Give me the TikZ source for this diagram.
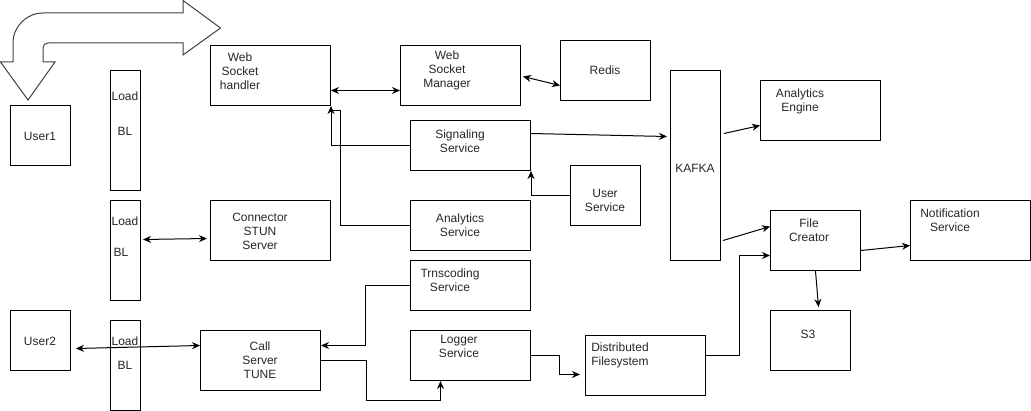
\documentclass[tikz,border=0pt]{standalone}
\usepackage{fontspec}
\setmainfont{Liberation Sans}
\usetikzlibrary{arrows.meta}
\begin{document}
\begin{tikzpicture}[x=1pt,y=-1pt,
  box/.style={draw=black, line width=1pt, anchor=north west, inner sep=0pt},
  txt/.style={font=\fontsize{12}{14}\selectfont, align=center, text=black!85, inner sep=0pt},
  conn/.style={line width=1pt, -{Stealth[length=8pt,width=7pt]}},
  dconn/.style={line width=1pt, {Stealth[length=8pt,width=7pt]}-{Stealth[length=8pt,width=7pt]}},
  plain/.style={line width=1pt},
  bigarrow/.style={draw=black!75, line width=1pt, line join=miter}]
\useasboundingbox (0,0) rectangle (1031,411);

% boxes
\node[box, minimum width=60pt, minimum height=60pt] (user1) at (10,105) {};
\node[box, minimum width=30pt, minimum height=120pt] (bl1) at (110,70) {};
\node[box, minimum width=120pt, minimum height=60pt] (wsh) at (210,45) {};
\node[box, minimum width=120pt, minimum height=60pt] (wsm) at (400,45) {};
\node[box, minimum width=90pt, minimum height=60pt] (redis) at (560,40) {};
\node[box, minimum width=120pt, minimum height=50pt] (sig) at (410,120) {};
\node[box, minimum width=70pt, minimum height=60pt] (usr) at (570,165) {};
\node[box, minimum width=120pt, minimum height=50pt] (ana) at (410,200) {};
\node[box, minimum width=30pt, minimum height=100pt] (bl2) at (110,200) {};
\node[box, minimum width=120pt, minimum height=60pt] (stun) at (210,200) {};
\node[box, minimum width=60pt, minimum height=60pt] (user2) at (10,310) {};
\node[box, minimum width=30pt, minimum height=90pt] (bl3) at (110,320) {};
\node[box, minimum width=120pt, minimum height=60pt] (call) at (200,330) {};
\node[box, minimum width=120pt, minimum height=50pt] (trn) at (410,260) {};
\node[box, minimum width=120pt, minimum height=50pt] (log) at (410,330) {};
\node[box, minimum width=120pt, minimum height=60pt] (dfs) at (585,335) {};
\node[box, minimum width=50pt, minimum height=190pt] (kafka) at (670,70) {};
\node[box, minimum width=120pt, minimum height=60pt] (ae) at (760,80) {};
\node[box, minimum width=90pt, minimum height=60pt] (fc) at (770,210) {};
\node[box, minimum width=120pt, minimum height=60pt] (notif) at (910,200) {};
\node[box, minimum width=80pt, minimum height=60pt] (s3) at (770,310) {};

% texts
\node[txt] (user1T) at (40,136) {User1};
\node[txt] (bl1a) at (125,96) {Load};
\node[txt] (bl1b) at (125,131) {BL};
\node[txt] (wshT) at (240,71) {Web\\Socket\\handler};
\node[txt] (wsmT) at (447,70) {Web\\Socket\\Manager};
\node[txt] (redisT) at (605,70) {Redis};
\node[txt] (sigT) at (460,141) {Signaling\\Service};
\node[txt] (usrT) at (605,200.5) {User\\Service};
\node[txt] (anaT) at (460,225.5) {Analytics\\Service};
\node[txt] (bl2a) at (125,221) {Load};
\node[txt] (bl2b) at (121,252) {BL};
\node[txt] (stunT) at (260,231) {Connector\\STUN\\Server};
\node[txt] (user2T) at (40,341) {User2};
\node[txt] (bl3a) at (125,341) {Load};
\node[txt] (bl3b) at (125,365) {BL};
\node[txt] (callT) at (260,360) {Call\\Server\\TUNE};
\node[txt] (trnT) at (450,280.5) {Trnscoding\\Service};
\node[txt] (logT) at (459,346) {Logger\\Service};
\node[txt, align=left] (dfsT) at (620,355.5) {Distributed\\Filesystem};
\node[txt] (kafkaT) at (695,168) {KAFKA};
\node[txt] (aeT) at (800,101) {Analytics\\Engine};
\node[txt] (fcT) at (809,230.5) {File\\Creator};
\node[txt] (notifT) at (950,220.5) {Notification\\Service};
\node[txt] (s3T) at (808,334) {S3};

% big U-turn arrow
\draw[bigarrow] (28,100) -- (55,62) -- (43,62) -- (43,48)
  .. controls (43,45) and (45,43) .. (48,43) -- (183,43) -- (183,55)
  -- (220.5,28) -- (183,0.5) -- (183,13) -- (43,13)
  .. controls (26.5,13) and (13,26.5) .. (13,43) -- (13,62) -- (0.5,62) -- cycle;

% connectors
\draw[dconn] ([yshift=-15pt]wsh.east) -- ([yshift=-15pt]wsm.west);
\draw[dconn] ([xshift=2pt,yshift=-1pt]wsm.east) -- ([yshift=-15pt]redis.west);
\draw[conn] ([yshift=12pt]sig.east) -- ([xshift=-3pt,yshift=29pt]kafka.west);
\draw[conn] (sig.west) -| (wsh.south east);
\draw[plain] (ana.west) -- ++(-70,0) |- ([yshift=-5pt]wsh.south east);
\draw[conn] (usr.west) -| (sig.south east);
\draw[dconn] ([xshift=2pt,yshift=11pt]bl2.east) -- ([xshift=-3pt,yshift=-8pt]stun.west);
\draw[dconn] ([xshift=5pt,yshift=-8pt]user2.east) -- ([yshift=15pt]call.west);
\draw[conn] (trn.west) -- ++(-45,0) |- ([yshift=15pt]call.east);
\draw[conn] (call.east) -- ++(45,0) -- ++(0,40) -| ([xshift=-30pt]log.south);
\draw[conn] (log.east) -- ++(28,0) |- ([xshift=-5pt,yshift=-9pt]dfs.west);
\draw[conn] ([yshift=10pt]dfs.east) -- ++(33,0) |- ([yshift=-15pt]fc.west);
\draw[conn] ([xshift=3pt,yshift=32pt]kafka.east) -- ([yshift=-15pt]ae.west);
\draw[conn] ([xshift=2pt,yshift=-75pt]kafka.east) -- ([yshift=14pt]fc.west);
\draw[conn] ([yshift=-10pt]fc.east) -- ([yshift=-15pt]notif.west);
\draw[conn] (fc.south) -- ([xshift=8pt,yshift=3pt]s3.north);
\end{tikzpicture}
\end{document}
